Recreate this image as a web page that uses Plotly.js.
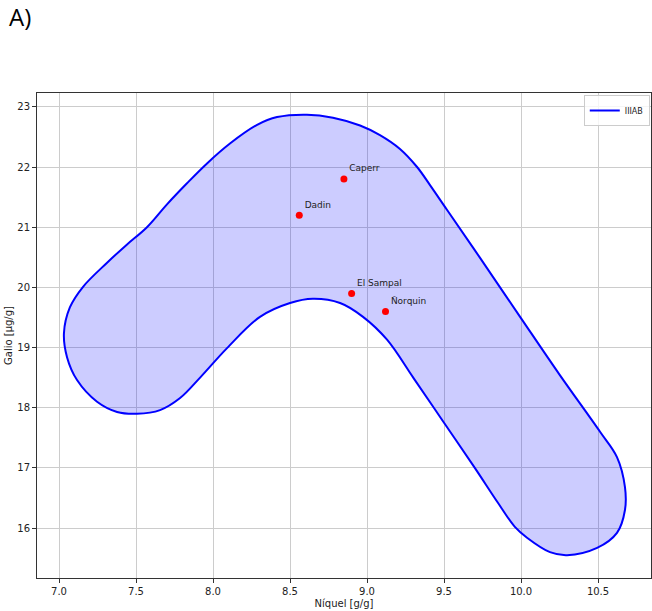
<!DOCTYPE html>
<html>
<head>
<meta charset="utf-8">
<script src="https://cdn.plot.ly/plotly-3.0.1.min.js"></script>
<style>
html,body{margin:0;padding:0;background:#fff;}
#chart{width:652px;height:611px;}
</style>
</head>
<body>
<div id="chart"></div>
<script>
// Outline of the IIIAB region (Níquel, Galio)
const regionNi = [7.032, 7.071, 7.156, 7.312, 7.44, 7.571, 7.701, 7.831, 7.961, 8.110, 8.286, 8.416, 8.610, 8.779, 8.955, 9.084, 9.214, 9.325, 9.409, 9.519, 9.734, 9.994, 10.25, 10.513, 10.623, 10.675, 10.675, 10.623, 10.494, 10.299, 10.188, 10.039, 9.960, 9.850, 9.700, 9.500, 9.300, 9.130, 8.974, 8.825, 8.649, 8.500, 8.305, 8.091, 7.916, 7.786, 7.656, 7.506, 7.377, 7.247, 7.117, 7.052, 7.032];
const regionGa = [19.24, 19.67, 20.01, 20.41, 20.71, 21.00, 21.38, 21.73, 22.06, 22.39, 22.70, 22.83, 22.87, 22.82, 22.69, 22.53, 22.30, 22.00, 21.70, 21.29, 20.49, 19.51, 18.55, 17.60, 17.18, 16.68, 16.30, 15.92, 15.67, 15.55, 15.60, 15.84, 16.02, 16.42, 17.00, 17.75, 18.50, 19.13, 19.51, 19.74, 19.81, 19.74, 19.51, 18.99, 18.50, 18.16, 17.96, 17.90, 17.93, 18.10, 18.46, 18.84, 19.24];

// Meteorites
const names = ["Caperr", "Dadin", "El Sampal", "Ñorquin"];
const ni = [8.85, 8.56, 8.90, 9.12];
const ga = [21.8, 21.2, 19.9, 19.6];

const groupName = "IIIAB";
const xTicks = [7.0, 7.5, 8.0, 8.5, 9.0, 9.5, 10.0, 10.5];
const yTicks = [16, 17, 18, 19, 20, 21, 22, 23];

const traces = [
  {
    x: regionNi, y: regionGa, type: 'scatter', mode: 'lines',
    line: {color: '#0000ff', width: 2, shape: 'spline', smoothing: 1},
    fill: 'toself', fillcolor: 'rgba(0,0,255,0.2)',
    showlegend: false, hoverinfo: 'skip'
  },
  {
    x: [null], y: [null], type: 'scatter', mode: 'lines',
    line: {color: '#0000ff', width: 2}, name: groupName, showlegend: true
  },
  {
    x: ni, y: ga, type: 'scatter', mode: 'markers+text',
    text: names, textposition: 'top right',
    textfont: {family: 'DejaVu Sans', size: 9, color: '#222'},
    marker: {color: '#ff0000', size: 7},
    showlegend: false
  }
];

const axisCommon = {
  showline: true, mirror: true, linecolor: '#333', linewidth: 1,
  ticks: 'outside', ticklen: 4, tickcolor: '#333',
  showgrid: true, gridcolor: '#cccccc', gridwidth: 1,
  zeroline: false,
  tickfont: {family: 'DejaVu Sans', size: 10, color: '#222'}
};

const layout = {
  width: 652, height: 611,
  margin: {l: 37, r: 1, t: 93, b: 33},
  paper_bgcolor: '#fff', plot_bgcolor: '#fff',
  font: {family: 'DejaVu Sans', color: '#222'},
  xaxis: Object.assign({}, axisCommon, {
    range: [6.857, 10.844], tickvals: xTicks, ticktext: xTicks.map(v => v.toFixed(1)),
    title: {text: 'Níquel [g/g]', font: {family: 'DejaVu Sans', size: 10, color: '#222'}, standoff: 3}
  }),
  yaxis: Object.assign({}, axisCommon, {
    range: [15.17, 23.23], tickvals: yTicks, ticktext: yTicks.map(String),
    title: {text: 'Galio [µg/g]', font: {family: 'DejaVu Sans', size: 10, color: '#222'}, standoff: 2}
  }),
  legend: {
    x: 0.998, xanchor: 'right', y: 0.996, yanchor: 'top',
    bgcolor: 'rgba(255,255,255,0.8)', bordercolor: '#cccccc', borderwidth: 1,
    font: {family: 'DejaVu Sans', size: 8, color: '#222'},
    itemwidth: 30
  },
  annotations: [{
    text: 'A)', xref: 'paper', yref: 'paper', x: 0, y: 1, xanchor: 'left', yanchor: 'bottom',
    xshift: -30, yshift: 58, showarrow: false,
    font: {family: 'Open Sans', size: 24, color: '#000'}
  }],
  showlegend: true
};

Plotly.newPlot('chart', traces, layout, {displayModeBar: false, staticPlot: true});
</script>
</body>
</html>
